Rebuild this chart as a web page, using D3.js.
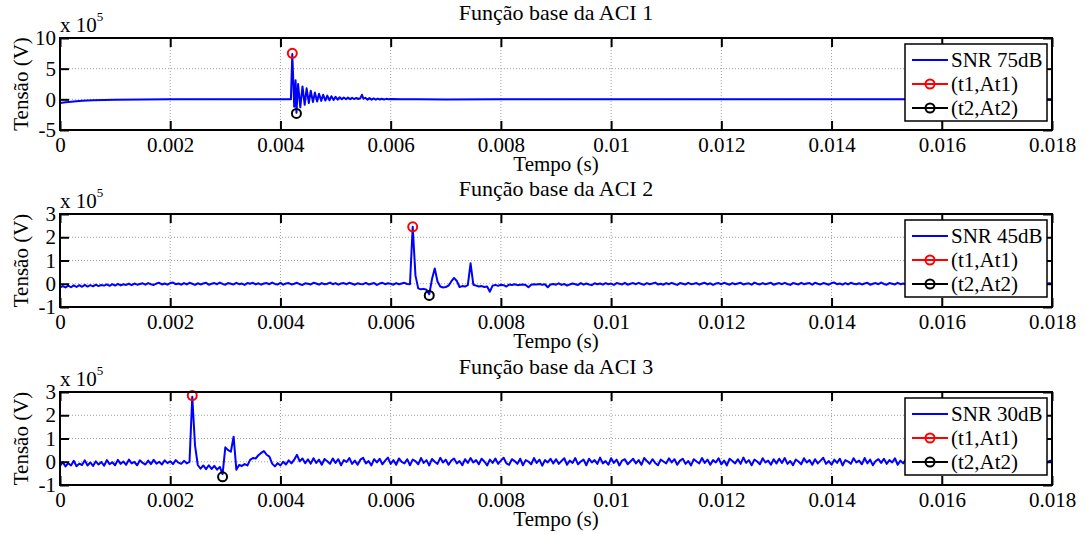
<!DOCTYPE html>
<html>
<head>
<meta charset="utf-8">
<script src="https://cdn.jsdelivr.net/npm/d3@7"></script>
<style>
  body { margin: 0; background: #fff; }
  svg text { font-family: "Liberation Serif", "Times New Roman", serif; }
</style>
</head>
<body>
<div id="chart"></div>
<script>
// Step 1: data

var titles = ["Função base da ACI 1", "Função base da ACI 2", "Função base da ACI 3"];
var snrNames = ["SNR 75dB", "SNR 45dB", "SNR 30dB"];
var markNames = ["(t1,At1)", "(t2,At2)"];

var xTicks = [0, 0.002, 0.004, 0.006, 0.008, 0.01, 0.012, 0.014, 0.016, 0.018];
var xTickLabels = ["0", "0.002", "0.004", "0.006", "0.008", "0.01", "0.012", "0.014", "0.016", "0.018"];
var yTicksTop = [-5, 0, 5, 10];
var yTicksLow = [-1, 0, 1, 2, 3];

// ACI 1, hand read points (t in s, v in 10^5 V)
var time1 = [0, 0.0001, 0.0002, 0.0004, 0.0006, 0.0008, 0.001, 0.0015, 0.002, 0.003, 0.004, 0.00419,
  0.004215, 0.00425, 0.004275, 0.00429, 0.00432, 0.00436, 0.0044, 0.00444, 0.004475, 0.004515,
  0.00455, 0.00459, 0.004625, 0.004665, 0.0047, 0.00474, 0.004775, 0.004815, 0.00485, 0.00489,
  0.004925, 0.004965, 0.005, 0.00504, 0.005075, 0.005115, 0.00515, 0.00519, 0.005225, 0.005265,
  0.0053, 0.00534, 0.005375, 0.005415, 0.00545, 0.00548, 0.005505, 0.00554, 0.00558, 0.005615,
  0.005655, 0.00569, 0.00573, 0.005765, 0.005805, 0.00584, 0.00588, 0.00592, 0.00596,
  0.006, 0.0062, 0.0065, 0.007, 0.008, 0.009, 0.01, 0.011, 0.012, 0.013, 0.014, 0.015, 0.016, 0.017, 0.018];
var volt1 = [-0.6, -0.48, -0.38, -0.25, -0.16, -0.1, -0.06, -0.02, 0, 0.02, 0.03, 0.03,
  7.4, -1.2, 3.1, -2.2, 2.5, -1.3, 2.1, -0.9, 1.8, -0.6,
  1.4, -0.45, 1.1, -0.35, 0.9, -0.25, 0.75, -0.2, 0.6, -0.15,
  0.5, -0.1, 0.4, -0.05, 0.35, 0, 0.3, 0.02, 0.28, 0.03,
  0.25, 0.05, 0.22, 0.05, 0.2, 0.75, 0.1, 0.25, -0.05, 0.2,
  -0.05, 0.15, -0.05, 0.12, -0.03, 0.1, -0.02, 0.08, 0,
  0.04, 0.02, 0, -0.03, 0.02, 0, 0.03, 0.02, 0.02, 0.03, 0.03, 0.02, 0.02, 0.02, 0.02];

// ACI 2 and ACI 3 sampled every 50 us, values in 10^3 V
var sampleStep = 0.00005;
var volt2 = [
  -17,-10,-16,-8,-15,-7,-14,-6,-13,-5,
  -12,-6,-11,-4,-10,-5,-8,-3,-9,-2,
  -8,-1,-7,-2,-5,0,-6,1,-4,-1,
  2,-4,3,-2,-5,1,4,-3,1,-4,
  3,5,-2,1,-4,3,-3,4,0,-5,
  2,-3,1,4,-4,0,3,-2,5,-1,
  -4,3,0,-3,4,-2,1,-5,3,0,
  4,-3,2,-4,1,3,-2,5,-1,-3,
  4,-4,1,3,-3,0,4,-2,-5,2,
  0,-3,4,1,-4,3,-2,0,5,-2,
  3,-4,1,3,-2,4,0,-4,2,-1,
  -2,4,-3,0,3,-5,1,4,-2,2,
  0,-4,3,-2,1,4,-1,-2,245,35,
  -20,-24,-22,-26,-45,20,66,10,-12,-16,
  -14,-8,10,25,12,-14,-10,-12,-6,88,
  -4,-8,-12,-10,-14,-12,-34,-8,-5,-9,
  -4,-6,-12,-3,-5,-2,-6,-4,-3,-5,
  -15,-4,-2,-3,-1,-4,-2,-15,-3,-1,
  -4,2,-5,-1,-8,-3,1,-2,-5,3,
  -4,1,-3,-6,2,-2,1,-4,3,-2,
  1,-5,3,0,-3,4,-4,0,3,-2,
  4,-1,-4,3,-2,1,5,-3,0,-4,
  3,-2,4,-1,-5,3,0,-3,4,-2,
  0,3,-4,1,4,-3,2,-5,1,3,
  -2,4,0,-4,3,-2,1,4,-3,0,
  2,-4,5,0,-3,3,-2,1,4,-4,
  0,3,-2,4,-1,-5,3,0,-3,4,
  -2,1,3,-4,4,0,-3,3,0,-4,
  3,5,-2,1,-4,3,-3,4,0,-2,
  2,-3,1,4,-4,0,3,-2,5,-1,
  -4,3,0,-3,4,-2,1,-4,3,0,
  4,-3,2,-4,1,3,-2,4,-1,-3,
  3,-4,1,3,-2,0,4,-3,-4,2,
  0,-3,4,1,-4,3,-2,0,4,-2,
  3,-4,1,3,-2,4,0,-4,2,0,
  -2,4,-3,0,3,-4,1,4,-2,2,
  0];
var volt3 = [
  -18,-2,-20,-6,-16,4,-19,-8,-14,6,
  -16,-3,-18,2,-12,-1,-17,7,-10,-2,
  -15,8,-9,1,-13,9,-7,-1,-15,6,
  -5,-12,5,-10,8,-8,0,-12,6,-6,
  2,-10,7,-4,-9,4,-7,-1,280,70,
  -14,-30,-16,-32,-15,-31,-18,-34,-22,-53,
  62,50,43,108,-34,-14,-18,-10,-16,8,
  16,14,28,38,46,30,22,-8,-20,-6,
  -16,0,-12,6,-7,9,30,2,14,-6,
  10,-8,15,-5,9,-13,12,2,-9,14,
  -5,11,-15,7,-1,16,-9,5,-13,9,
  17,-7,3,-16,11,-3,13,-11,5,18,
  -9,7,-13,14,-1,-7,11,-15,9,3,
  -11,16,-5,7,-16,12,0,-9,17,-3,
  9,-13,5,14,-7,3,-15,11,-5,16,
  -3,7,-11,13,1,-16,9,-5,14,-9,
  5,17,-7,-13,11,3,-9,13,-15,7,
  1,-11,16,-5,9,-17,7,-3,13,-7,
  11,-9,3,15,-13,5,-5,16,-11,1,
  9,-15,13,-3,7,-9,18,-7,3,-13,
  15,-5,9,-16,5,11,-11,1,13,-7,
  7,-13,16,3,-9,11,-5,-15,9,1,
  -7,15,-3,11,-13,5,13,-9,3,-16,
  11,1,-7,16,-5,9,-13,7,-3,15,
  -11,5,-16,13,3,-7,11,-9,18,-5,
  7,-15,9,1,-11,15,-3,5,-13,11,
  -7,13,-5,16,-9,3,-15,9,1,-11,
  15,-3,7,-13,11,-7,5,17,-9,3,
  -13,9,-5,13,-16,7,1,-9,15,-3,
  5,-11,16,-7,9,-15,3,11,-5,13,
  -9,7,-3,15,-13,5,-7,11,1,-15,
  9,-5,13,-11,3,16,-7,5,-13,7,
  -3,11,-9,15,-5,1,-16,9,3,-7,
  13,-11,7,-3,16,-9,5,-13,11,1,
  -7,15,-5,9,-15,3,13,-9,5,-11,
  7,-3,16,-13,1,11,-7,15,-5,3,
  5];

// marker points (t1,At1) and (t2,At2) per panel, v in 10^5 V
var t1Marks = [0.004215, 0.0064, 0.0024];
var at1Marks = [7.5, 2.45, 2.85];
var t2Marks = [0.00429, 0.0067, 0.00295];
var at2Marks = [-2.3, -0.5, -0.65];

// Step 2: workspace
var svgWidth = 1085;
var svgHeight = 534;
var left = 60, right = 1052;
var fontSize = 21;

var svg = d3.select("#chart")
  .append("svg")
  .attr("width", svgWidth)
  .attr("height", svgHeight);

var panels = [
  { top: 38, bottom: 130, yDomain: [-5, 10], yTicks: yTicksTop,
    data: time1.map(function(t, i) { return { t: t, v: volt1[i] }; }) },
  { top: 214, bottom: 307, yDomain: [-1, 3], yTicks: yTicksLow,
    data: volt2.map(function(v, i) { return { t: i * sampleStep, v: v / 100 }; }) },
  { top: 392, bottom: 485, yDomain: [-1, 3], yTicks: yTicksLow,
    data: volt3.map(function(v, i) { return { t: i * sampleStep, v: v / 100 }; }) }
];

var x = d3.scaleLinear().domain([0, 0.018]).range([left, right]);

// Step 3: draw each panel
panels.forEach(function(p, k) {
  var y = d3.scaleLinear().domain(p.yDomain).range([p.bottom, p.top]);
  var g = svg.append("g");

  // dotted grid
  g.selectAll(".vgrid").data(xTicks.slice(1, -1)).enter().append("line")
    .attr("x1", d => x(d)).attr("x2", d => x(d))
    .attr("y1", p.top).attr("y2", p.bottom)
    .attr("stroke", "#a0a0a0").attr("stroke-width", 1).attr("stroke-dasharray", "1,2");
  g.selectAll(".hgrid").data(p.yTicks.slice(1, -1)).enter().append("line")
    .attr("x1", left).attr("x2", right)
    .attr("y1", d => y(d)).attr("y2", d => y(d))
    .attr("stroke", "#a0a0a0").attr("stroke-width", 1).attr("stroke-dasharray", "1,2");

  // signal
  svg.append("clipPath").attr("id", "clip" + k)
    .append("rect").attr("x", left).attr("y", p.top)
    .attr("width", right - left).attr("height", p.bottom - p.top);

  var line = d3.line().x(d => x(d.t)).y(d => y(d.v));
  g.append("path")
    .datum(p.data)
    .attr("clip-path", "url(#clip" + k + ")")
    .attr("d", line)
    .attr("fill", "none")
    .attr("stroke", "#0000ff")
    .attr("stroke-width", 2)
    .attr("stroke-linejoin", "round");

  // markers
  g.append("circle")
    .attr("cx", x(t1Marks[k])).attr("cy", y(at1Marks[k])).attr("r", 4.5)
    .attr("fill", "none").attr("stroke", "#ff0000").attr("stroke-width", 2);
  g.append("circle")
    .attr("cx", x(t2Marks[k])).attr("cy", y(at2Marks[k])).attr("r", 4.5)
    .attr("fill", "none").attr("stroke", "#000").attr("stroke-width", 2);

  // axes, ticks pointing in
  var xAxis = d3.axisBottom(x).tickValues(xTicks)
    .tickFormat((d, i) => xTickLabels[i])
    .tickSizeInner(-9).tickSizeOuter(0).tickPadding(7);
  var xTop = d3.axisTop(x).tickValues(xTicks).tickFormat("")
    .tickSizeInner(-9).tickSizeOuter(0);
  var yAxis = d3.axisLeft(y).tickValues(p.yTicks)
    .tickFormat(d => String(d))
    .tickSizeInner(-9).tickSizeOuter(0).tickPadding(4);
  var yRight = d3.axisRight(y).tickValues(p.yTicks).tickFormat("")
    .tickSizeInner(-9).tickSizeOuter(0);

  [[xAxis, "translate(0," + p.bottom + ")"],
   [xTop, "translate(0," + p.top + ")"],
   [yAxis, "translate(" + left + ",0)"],
   [yRight, "translate(" + right + ",0)"]].forEach(function(a) {
    var ag = g.append("g").attr("transform", a[1]).call(a[0]);
    ag.select(".domain").remove();
    ag.selectAll("line").attr("stroke", "#000").attr("stroke-width", 2);
    ag.selectAll("text").attr("font-size", fontSize)
      .attr("font-family", "Liberation Serif, serif").attr("fill", "#000");
  });

  g.append("rect")
    .attr("x", left).attr("y", p.top)
    .attr("width", right - left).attr("height", p.bottom - p.top)
    .attr("fill", "none").attr("stroke", "#000").attr("stroke-width", 2);

  // x 10^5
  var ex = g.append("text").attr("x", left).attr("y", p.top - 6)
    .attr("font-size", fontSize);
  ex.append("tspan").text("x 10");
  ex.append("tspan").attr("dy", -11).attr("font-size", 13).text("5");

  // titles and labels
  g.append("text")
    .attr("x", (left + right) / 2).attr("y", p.top - 18)
    .attr("text-anchor", "middle").attr("font-size", 22)
    .text(titles[k]);
  g.append("text")
    .attr("x", (left + right) / 2).attr("y", p.bottom + 41)
    .attr("text-anchor", "middle").attr("font-size", fontSize)
    .text("Tempo (s)");
  g.append("text")
    .attr("transform", "translate(28," + (p.top + p.bottom) / 2 + ") rotate(-90)")
    .attr("text-anchor", "middle").attr("font-size", fontSize)
    .text("Tensão (V)");

  // legend
  var lg = g.append("g").attr("transform", "translate(905," + (p.top + 6) + ")");
  lg.append("rect").attr("width", 142).attr("height", 77)
    .attr("fill", "#fff").attr("stroke", "#000").attr("stroke-width", 1.5);
  var rows = [
    { name: snrNames[k], color: "#0000ff", mark: false },
    { name: markNames[0], color: "#ff0000", mark: true },
    { name: markNames[1], color: "#000", mark: true }
  ];
  rows.forEach(function(r, j) {
    var ry = 16 + j * 24;
    lg.append("line").attr("x1", 7).attr("x2", 43).attr("y1", ry).attr("y2", ry)
      .attr("stroke", r.color).attr("stroke-width", 2);
    if (r.mark) {
      lg.append("circle").attr("cx", 25).attr("cy", ry).attr("r", 4.5)
        .attr("fill", "none").attr("stroke", r.color).attr("stroke-width", 2);
    }
    lg.append("text").attr("x", 46).attr("y", ry).attr("dy", "0.35em")
      .attr("font-size", fontSize).text(r.name);
  });
});
</script>
</body>
</html>
